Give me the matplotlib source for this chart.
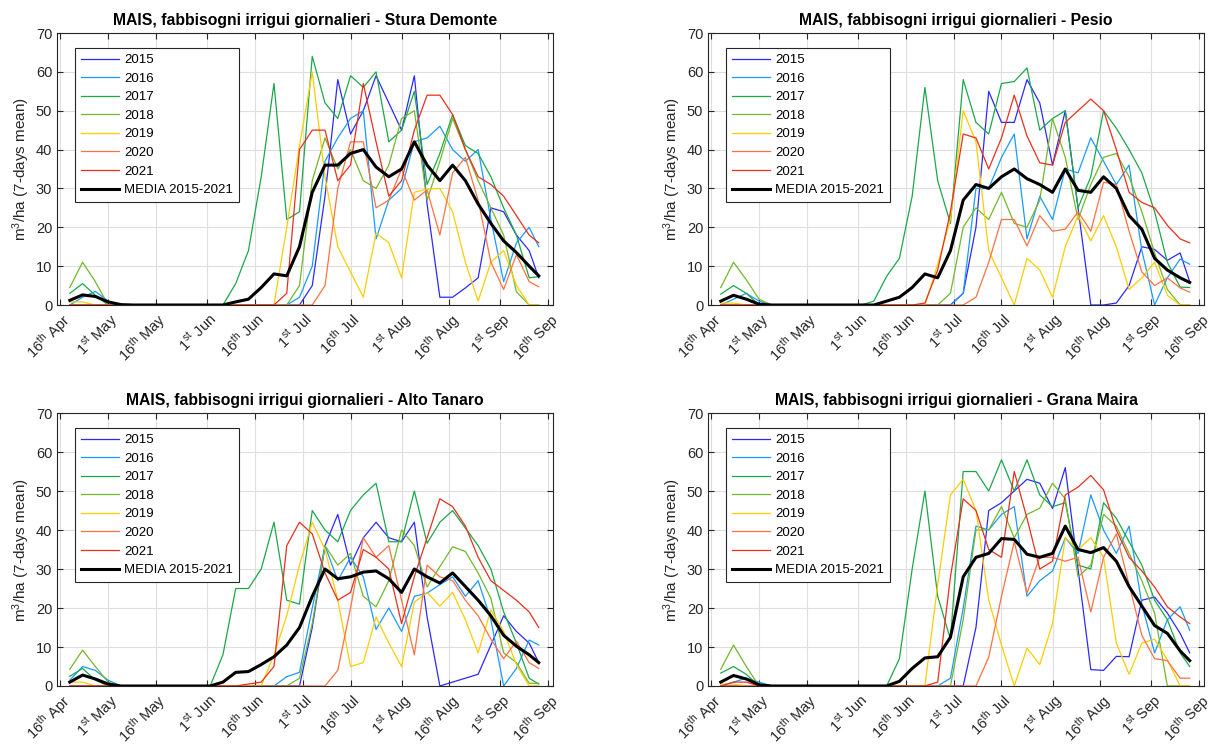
import numpy as np
import matplotlib
matplotlib.use('Agg')
import matplotlib.pyplot as plt

plt.rcParams['font.family'] = ['Liberation Sans', 'DejaVu Sans']
plt.rcParams['mathtext.fontset'] = 'custom'
plt.rcParams['mathtext.rm'] = 'Liberation Sans'
plt.rcParams['mathtext.it'] = 'Liberation Sans:italic'
plt.rcParams['mathtext.bf'] = 'Liberation Sans:bold'

# days after 16 April (7-days mean values, read every 4 days)
days = [3, 7, 11, 15, 19, 23, 27, 31, 35, 39, 43, 47, 51, 55, 59, 63, 67, 71, 75,
        79, 83, 87, 91, 95, 99, 103, 107, 111, 115, 119, 123, 127, 131, 135, 139, 143, 147, 150]

start = np.datetime64('2021-04-16')
tick_dates = ['2021-04-16', '2021-05-01', '2021-05-16', '2021-06-01', '2021-06-16', '2021-07-01',
              '2021-07-16', '2021-08-01', '2021-08-16', '2021-09-01', '2021-09-16']
tick_labels = ['16$^{\\mathrm{th}}$ Apr', '1$^{\\mathrm{st}}$ May', '16$^{\\mathrm{th}}$ May',
               '1$^{\\mathrm{st}}$ Jun', '16$^{\\mathrm{th}}$ Jun', '1$^{\\mathrm{st}}$ Jul',
               '16$^{\\mathrm{th}}$ Jul', '1$^{\\mathrm{st}}$ Aug', '16$^{\\mathrm{th}}$ Aug',
               '1$^{\\mathrm{st}}$ Sep', '16$^{\\mathrm{th}}$ Sep']

years = ['2015', '2016', '2017', '2018', '2019', '2020', '2021']
colors = ['#2a2aff', '#1a9aff', '#1aa84a', '#72b72a', '#ffcc00', '#ff7040', '#e8301c']

stura = {
    '2015': [0, 0, 0, 0, 0, 0, 0, 0, 0, 0, 0, 0, 0, 0, 0, 0, 0, 0, 0,
             5, 28, 58, 44, 50, 59, 52, 45, 59, 26, 2, 2, 4.4, 7, 25, 24, 18, 14, 7],
    '2016': [0, 2, 3.5, 1, 0, 0, 0, 0, 0, 0, 0, 0, 0, 0, 0, 0, 0, 0,
             2, 10, 37, 43, 48, 50, 17, 27, 30, 42, 43, 46, 40, 37, 40, 22, 6, 16, 20, 15],
    '2017': [3, 5.5, 2.5, 0, 0, 0, 0, 0, 0, 0, 0, 0, 0,
             5.5, 14, 33, 57, 22, 24, 64, 52, 48, 59, 56, 60, 42, 45, 55, 31, 39, 49, 41, 39, 33, 25, 18, 7, 7.3],
    '2018': [4.5, 11, 6, 0, 0, 0, 0, 0, 0, 0, 0, 0, 0, 0, 0, 0, 0, 0,
             5, 32, 43, 35, 40, 32, 30, 36, 48, 50, 27, 37, 48, 40, 32, 25, 18, 3.4, 0, 0],
    '2019': [0.8, 0.8, 0, 0, 0, 0, 0, 0, 0, 0, 0, 0, 0, 0, 0, 0, 0,
             20, 41, 60, 33, 15, 8.5, 2, 18.5, 16, 7, 29, 29.8, 30, 24, 11, 1, 11, 14, 5, 0, 0],
    '2020': [0, 0, 0, 0, 0, 0, 0, 0, 0, 0, 0, 0, 0, 0, 0, 0, 0, 0, 0, 0,
             5, 30, 42, 42, 25, 27, 35, 27, 29.6, 18, 34, 38, 27, 11, 4, 13, 6, 4.7],
    '2021': [0, 0, 0, 0, 0, 0, 0, 0, 0, 0, 0, 0, 0, 0, 0, 0, 0,
             3, 40, 45, 45, 32, 36, 57, 42, 28, 32, 45, 54, 54, 49, 40, 33, 31, 28, 23, 18, 16],
}
stura_media = [1.2, 2.6, 2.2, 0.8, 0.1, 0, 0, 0, 0, 0, 0, 0, 0,
               0.8, 1.5, 4.5, 8, 7.5, 15, 29, 36, 36, 39, 40, 35.5, 33, 35, 42, 36, 32, 36, 32, 26, 21, 16.5, 13.5, 10, 7.5]

pesio = {
    '2015': [0, 0, 0, 0, 0, 0, 0, 0, 0, 0, 0, 0, 0, 0, 0, 0, 0, 0, 0,
             3, 20, 55, 47, 47, 58, 52, 36, 50, 25, 0, 0, 0.5, 5, 15, 14.3, 11.5, 13.4, 6],
    '2016': [0, 1.5, 3, 1, 0, 0, 0, 0, 0, 0, 0, 0, 0, 0, 0, 0, 0, 0, 0,
             3, 30, 30, 38, 44, 17, 28, 22, 35, 34, 43, 37, 31, 36, 14, 0, 7, 11.8, 10.5],
    '2017': [2.8, 5, 3, 0, 0, 0, 0, 0, 0, 0, 0, 0,
             1, 7.4, 12, 28, 56, 32, 21, 58, 47, 44, 57, 57.5, 61, 45, 48, 50, 25, 33, 50, 45.5, 40, 34, 24, 11, 4.6, 4.5],
    '2018': [4.5, 11, 6.5, 1.5, 0, 0, 0, 0, 0, 0, 0, 0, 0, 0, 0, 0, 0, 0,
             3, 20, 25, 22, 29, 21, 20, 27, 48, 38, 22, 31, 38, 39, 33, 24, 13.4, 4, 0, 0],
    '2019': [0.5, 0.5, 0, 0, 0, 0, 0, 0, 0, 0, 0, 0, 0, 0, 0, 0, 0,
             10.5, 22, 50, 42, 14, 7, 0, 12, 9, 2, 15, 23, 16.5, 23, 15, 4, 7, 11, 2.5, 0, 0],
    '2020': [0, 0, 0, 0, 0, 0, 0, 0, 0, 0, 0, 0, 0, 0, 0, 0, 0, 0, 0, 0,
             2, 11, 22, 22, 15.2, 23, 19, 19.5, 24, 19, 31.6, 31, 19, 8.5, 5, 7, 4.4, 3.3],
    '2021': [0, 0, 0, 0, 0, 0, 0, 0, 0, 0, 0, 0, 0, 0, 0, 0,
             0.5, 9, 24, 44, 43, 35, 43, 54, 43.5, 36.6, 36, 47, 50, 53, 50, 40, 29, 26.4, 25, 20.5, 17, 16],
}
pesio_media = [1, 2.5, 1.5, 0.2, 0, 0, 0, 0, 0, 0, 0, 0, 0,
               1, 2, 4.5, 8, 7, 14, 27, 31, 30, 33, 35, 32.5, 31, 29, 35, 29.5, 29, 33, 30, 23, 19.5, 12, 9, 7, 5.8]

tanaro = {
    '2015': [0, 0, 0, 0, 0, 0, 0, 0, 0, 0, 0, 0, 0, 0, 0, 0, 0, 0, 0,
             15, 36, 44, 31, 38, 42, 38, 37, 42, 17.7, 0, 1, 2, 3, 10.5, 18, 14, 11, 6],
    '2016': [1.5, 5, 4, 1.5, 0, 0, 0, 0, 0, 0, 0, 0, 0, 0, 0, 0, 0,
             2.4, 3.5, 20, 36, 27, 33, 28, 14.5, 20, 14, 23, 23.8, 26, 28, 23, 27, 17, 0, 4.5, 11.8, 10.5],
    '2017': [2.5, 4.5, 1.5, 0, 0, 0, 0, 0, 0, 0, 0, 0,
             8, 25, 25, 30, 42, 22, 21, 45, 40, 37, 45, 49, 52, 37, 37, 50, 36.6, 42, 45, 40.5, 36, 30, 19, 11, 2, 0.5],
    '2018': [4.3, 9.2, 5, 1, 0, 0, 0, 0, 0, 0, 0, 0, 0, 0, 0, 0, 0, 0,
             2, 16, 36, 31, 34, 23, 20.3, 27, 40, 36, 25.4, 30.6, 35.7, 34.5, 29, 22.5, 8.5, 6, 0.7, 0.7],
    '2019': [1, 1, 0, 0, 0, 0, 0, 0, 0, 0, 0, 0, 0, 0, 0, 0,
             8, 18, 31, 42, 35, 22, 5, 6, 17.7, 11, 5, 21.5, 24, 20.5, 24, 17, 8.5, 19.5, 14, 5.5, 0, 0],
    '2020': [0, 0, 0, 0, 0, 0, 0, 0, 0, 0, 0, 0, 0, 0, 0, 0, 0, 0, 0, 0, 0,
             4, 20, 38, 33, 36, 22, 8, 31, 28, 27, 22, 18, 12, 7, 11.5, 6, 4.5],
    '2021': [0, 0, 0, 0, 0, 0, 0, 0, 0, 0, 0, 0, 0, 0,
             0.5, 1, 5, 36, 42, 39, 29, 22, 24, 35, 33, 30, 16, 28, 38, 48, 46, 41, 33, 27, 24.5, 22, 19, 15],
}
tanaro_media = [1, 2.8, 1.8, 0.5, 0, 0, 0, 0, 0, 0, 0, 0,
                1, 3.5, 3.7, 5.5, 7.5, 10.5, 15, 23, 30, 27.5, 28, 29.2, 29.5, 27.5, 24, 30, 28, 26.4, 29, 25.5, 22, 18, 13, 10.2, 8, 6]

grana = {
    '2015': [0, 0, 0, 0, 0, 0, 0, 0, 0, 0, 0, 0, 0, 0, 0, 0, 0, 0, 0, 0,
             15, 45, 47, 50, 53, 52, 45.5, 56, 30, 4.2, 4, 7.6, 7.5, 22, 22.8, 18.7, 13.5, 8.5],
    '2016': [0, 1, 2, 1, 0, 0, 0, 0, 0, 0, 0, 0, 0, 0, 0, 0, 0, 0,
             2, 20, 41, 40, 44, 46, 23, 27, 29.5, 38, 34, 49, 40, 34, 41, 21, 8.5, 17, 20.3, 14.3],
    '2017': [3.3, 5, 3, 0, 0, 0, 0, 0, 0, 0, 0, 0, 0, 0,
             7, 30, 50, 23, 12, 55, 55, 50, 58, 50, 58, 49, 46, 47, 31, 30, 47, 43, 37, 31, 22, 17, 8.5, 5],
    '2018': [4.3, 10.5, 5, 0, 0, 0, 0, 0, 0, 0, 0, 0, 0, 0, 0, 0, 0, 0, 0,
             17, 40, 40, 46, 38, 44, 45.6, 52, 48, 28, 31, 44, 41, 34, 27, 18.7, 0, 0, 0],
    '2019': [0.5, 0.5, 0, 0, 0, 0, 0, 0, 0, 0, 0, 0, 0, 0, 0, 0, 0,
             26, 49, 53, 45, 22, 10.5, 0, 9.7, 5.5, 16, 38, 35, 38, 33, 11, 3, 11, 12, 6.7, 0, 0],
    '2020': [0, 0, 0, 0, 0, 0, 0, 0, 0, 0, 0, 0, 0, 0, 0, 0, 0, 0, 0, 0, 0,
             7.4, 23, 37, 23.8, 33, 33, 32, 33, 19, 33, 39, 26, 13, 7, 6.5, 2, 2],
    '2021': [0, 1, 1, 0, 0, 0, 0, 0, 0, 0, 0, 0, 0, 0, 0, 0, 0,
             1, 28, 48, 45, 35, 33, 55, 43, 30, 32, 49, 51, 54, 50.3, 40, 33, 29.5, 25.4, 20.3, 17.7, 16],
}
grana_media = [1, 2.7, 1.8, 0.3, 0, 0, 0, 0, 0, 0, 0, 0, 0, 0,
               1.2, 4.5, 7.2, 7.5, 12.5, 28, 33, 34, 37.8, 37.6, 33.8, 33, 34, 41, 35, 34.2, 35.5, 32, 25.5, 20.5, 15.5, 13.5, 9, 6.5]

stations = ['Stura Demonte', 'Pesio', 'Alto Tanaro', 'Grana Maira']
series = [stura, pesio, tanaro, grana]
medie = [stura_media, pesio_media, tanaro_media, grana_media]

tick_pos = (np.array(tick_dates, dtype='datetime64[D]') - start).astype(int)

fig = plt.figure(figsize=(12.14, 7.45), dpi=100)
boxes = [[0.047, 0.5906, 0.4086, 0.3651], [0.5832, 0.5906, 0.4086, 0.3651],
         [0.047, 0.0792, 0.4086, 0.3664], [0.5832, 0.0792, 0.4086, 0.3664]]

for box, name, data, media in zip(boxes, stations, series, medie):
    ax = fig.add_axes(box)
    for y, c in zip(years, colors):
        ax.plot(days, data[y], color=c, lw=0.9, label=y)
    ax.plot(days, media, color='k', lw=2.2, label='MEDIA 2015-2021')

    ax.set_xlim(-1, 154.5)
    ax.set_ylim(0, 70)
    ax.set_xticks(tick_pos)
    ax.set_xticklabels(tick_labels, rotation=45, ha='right', rotation_mode='anchor')
    ax.set_yticks(range(0, 71, 10))
    ax.grid(True, color='#dedede', lw=0.8)
    ax.set_axisbelow(True)
    ax.tick_params(direction='in', top=True, right=True, length=4, labelsize=10.5,
                   color='#262626', labelcolor='#262626')
    for s in ax.spines.values():
        s.set_color('#262626')
        s.set_linewidth(0.8)
    ax.set_ylabel('m$^{3}$/ha (7-days mean)', fontsize=11, color='#262626', labelpad=3)
    ax.set_title('MAIS, fabbisogni irrigui giornalieri - ' + name, fontsize=11.3,
                 fontweight='bold', pad=6)
    leg = ax.legend(loc='upper left', bbox_to_anchor=(0.036, 0.945), borderaxespad=0,
                    fontsize=9.5, fancybox=False, edgecolor='#262626', framealpha=1,
                    handlelength=2.9, handletextpad=0.4, labelspacing=0.48, borderpad=0.45)
    leg.get_frame().set_linewidth(0.8)

fig.savefig('out.png', dpi=100)
